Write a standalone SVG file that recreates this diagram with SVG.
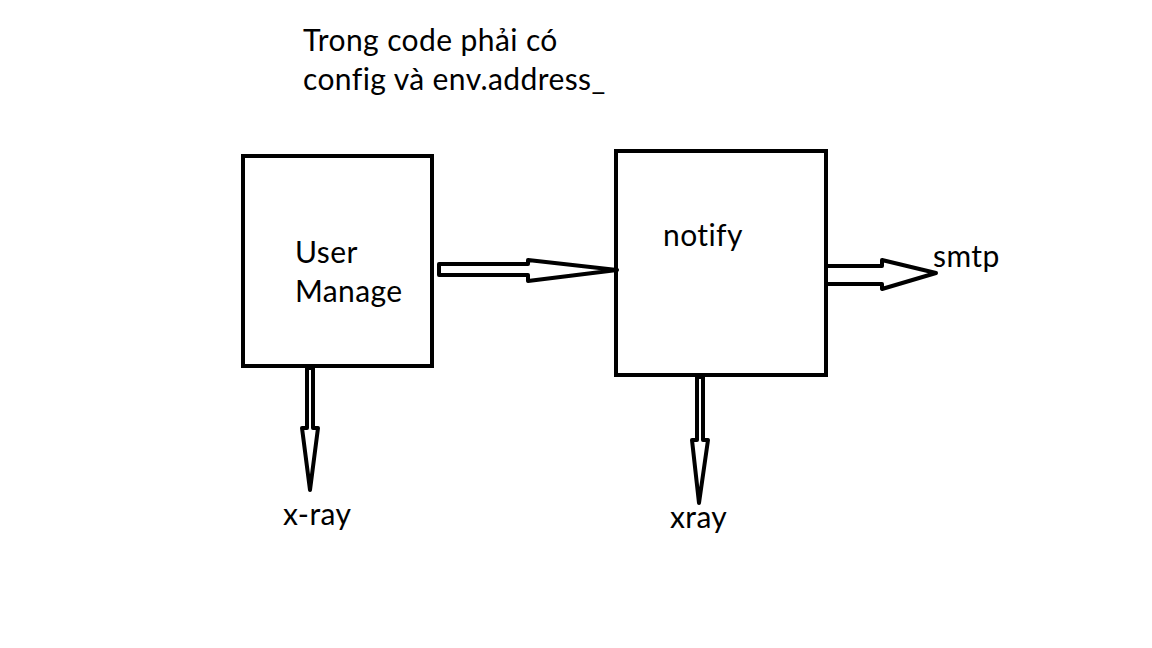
<svg xmlns="http://www.w3.org/2000/svg" width="1152" height="648" viewBox="0 0 1152 648">
<style>
.box{fill:none;stroke:#000;stroke-width:4}
.arr{fill:#fff;stroke:#000;stroke-width:4;stroke-linejoin:round}
text{font-family:Lato,"Open Sans","Noto Sans",sans-serif;font-size:30px;letter-spacing:0.4px;fill:#000}
</style>
<rect width="1152" height="648" fill="#fff"/>
<g id="note">
<text x="303" y="51">Trong code phải có</text>
<text x="303" y="90">config và env.address_</text>
</g>
<g id="connectors">
<polygon class="arr" points="439,264 528,264 528,260 617,270 528,281 528,275 439,275"/>
<polygon class="arr" points="826,266 882,266 882,260 936,273 882,289 882,284 826,284"/>
<polygon class="arr" points="307,368 307,428 302,428 310,490 318,428 313,428 313,368"/>
<polygon class="arr" points="697,377 697,440 692,440 699,503 708,440 703,440 703,377"/>
</g>
<g id="user-manage">
<rect class="box" x="243" y="156" width="189" height="210"/>
<text x="295" y="263">User</text>
<text x="295" y="302">Manage</text>
</g>
<g id="notify">
<rect class="box" x="616" y="151" width="210" height="224"/>
<text x="663" y="246">notify</text>
</g>
<g id="smtp"><text x="933" y="267">smtp</text></g>
<g id="x-ray"><text x="283" y="525">x-ray</text></g>
<g id="xray"><text x="670" y="528">xray</text></g>
</svg>
